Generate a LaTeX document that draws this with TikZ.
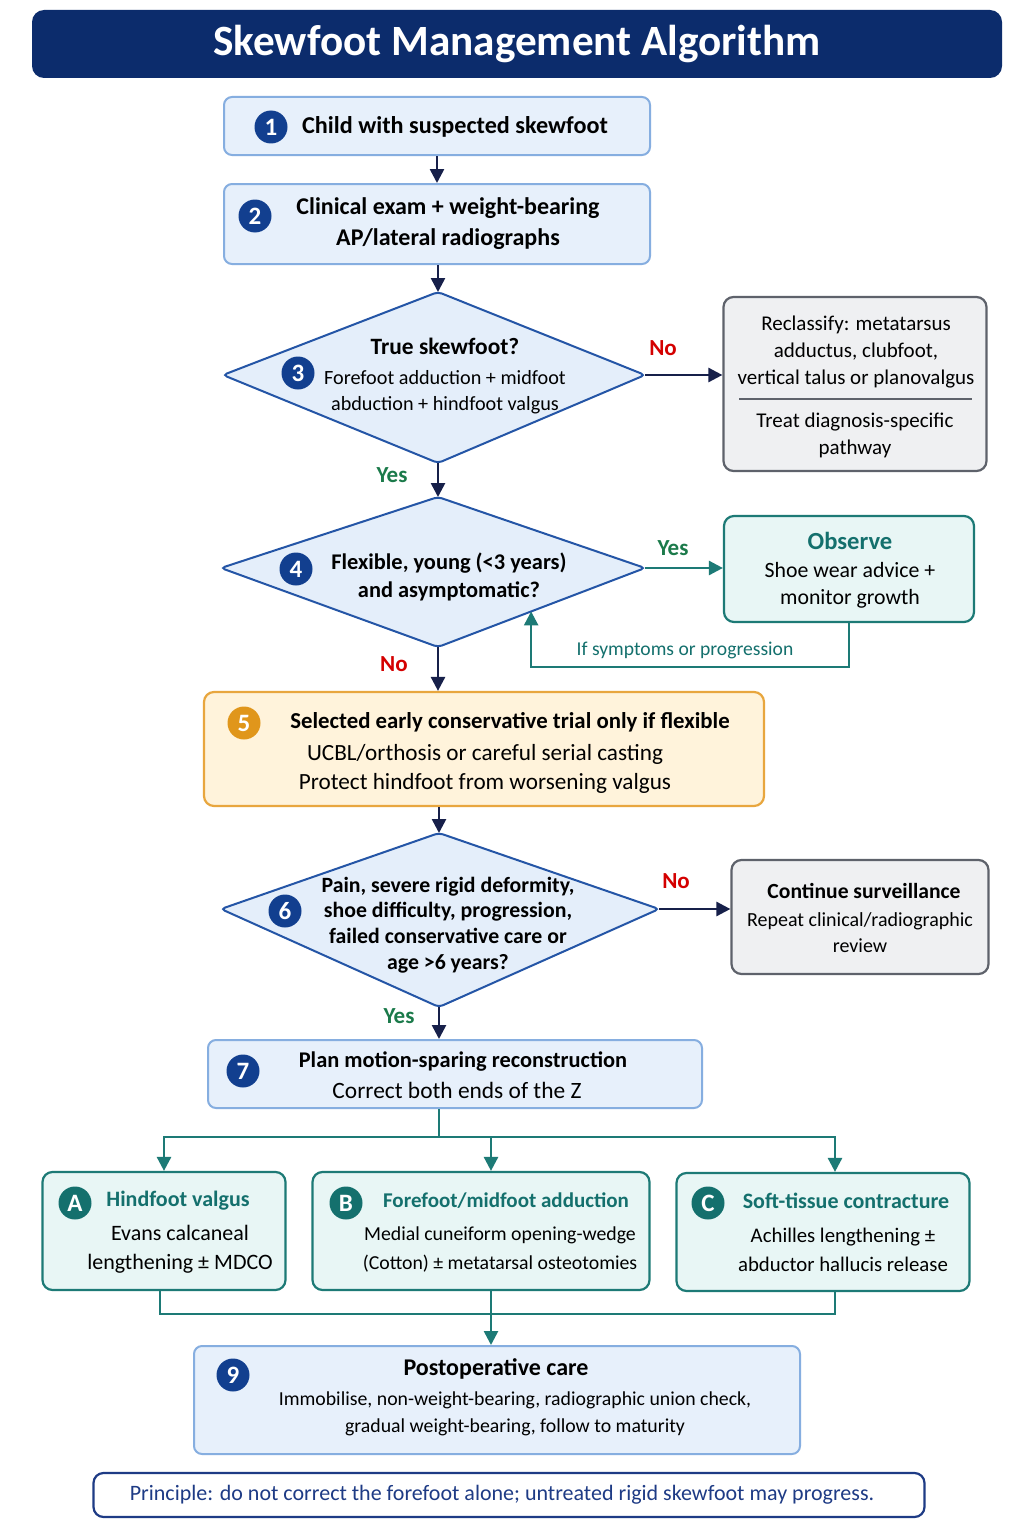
\documentclass[tikz,border=0pt]{standalone}
\usepackage{fontspec}
\setmainfont{Carlito}
\usetikzlibrary{arrows.meta,calc}

\newcommand{\pxu}{0.5pt}

\definecolor{titlenavy}{HTML}{0C2C6C}
\definecolor{dotnavy}{HTML}{123F8F}
\definecolor{arrownavy}{HTML}{17204A}
\definecolor{boxfill}{HTML}{E7F0FB}
\definecolor{boxline}{HTML}{86AEE0}
\definecolor{dfill}{HTML}{E4EEFA}
\definecolor{dline}{HTML}{2455A6}
\definecolor{grayfill}{HTML}{EFF0F2}
\definecolor{grayline}{HTML}{5E626B}
\definecolor{tealline}{HTML}{1D7A76}
\definecolor{tealfill}{HTML}{E8F6F5}
\definecolor{tealtext}{HTML}{14706D}
\definecolor{yesgreen}{HTML}{1B7A4A}
\definecolor{nored}{HTML}{D40000}
\definecolor{orfill}{HTML}{FFF3DB}
\definecolor{orline}{HTML}{E8A63E}
\definecolor{ordot}{HTML}{E0961B}
\definecolor{prinnavy}{HTML}{1E3B85}

\tikzset{
  titlebar/.style={fill=titlenavy, rounded corners=6pt, text=white,
    font=\bfseries\fontsize{21.6}{24}\selectfont},
  bluebox/.style={draw=boxline, fill=boxfill, line width=1pt, rounded corners=4pt},
  graybox/.style={draw=grayline, fill=grayfill, line width=1.1pt, rounded corners=5pt},
  tealbox/.style={draw=tealline, fill=tealfill, line width=1.1pt, rounded corners=5pt},
  orbox/.style={draw=orline, fill=orfill, line width=1.1pt, rounded corners=5pt},
  decision/.style={draw=dline, fill=dfill, line width=1pt, rounded corners=2pt},
  numdot/.style={circle, fill=dotnavy, text=white, inner sep=0pt,
    minimum size=33*\pxu, font=\bfseries\fontsize{12.5}{12.5}\selectfont},
  head/.style={align=center, inner sep=0pt, font=\bfseries\fontsize{11.5}{15}\selectfont},
  body/.style={align=center, inner sep=0pt, font=\fontsize{10.5}{13.5}\selectfont},
  yeslbl/.style={text=yesgreen, font=\bfseries\fontsize{11.5}{12}\selectfont},
  nolbl/.style={text=nored, font=\bfseries\fontsize{11.5}{12}\selectfont},
  arrnavy/.style={draw=arrownavy, line width=1.3pt, -{Triangle[length=7pt,width=7pt]}},
  arrteal/.style={draw=tealline, line width=1.3pt, -{Triangle[length=7pt,width=7pt]}},
  lineteal/.style={draw=tealline, line width=1.3pt}
}

\begin{document}
\begin{tikzpicture}[x=0.5pt, y=-0.5pt]
    \useasboundingbox[fill=white] (0,0) rectangle (1024,1536);

    % Title
    \node[titlebar, minimum width=970*\pxu, minimum height=68*\pxu] (title) at (517,44) {Skewfoot Management Algorithm};

    % Main column boxes
    \node[bluebox, minimum width=426*\pxu, minimum height=58*\pxu] (b1) at (437,126) {};
    \node[bluebox, minimum width=426*\pxu, minimum height=80*\pxu] (b2) at (437,224) {};
    \node[orbox, minimum width=560*\pxu, minimum height=114*\pxu] (b5) at (484,749) {};
    \node[bluebox, minimum width=494*\pxu, minimum height=68*\pxu] (b7) at (455,1074) {};

    % Decision diamonds
    \coordinate (d3n) at (438,292);  \coordinate (d3e) at (645,375);
    \coordinate (d3s) at (438,463);  \coordinate (d3w) at (223,375);
    \draw[decision] (d3n) -- (d3e) -- (d3s) -- (d3w) -- cycle;
    \coordinate (d4n) at (438,497);  \coordinate (d4e) at (645,568);
    \coordinate (d4s) at (438,647);  \coordinate (d4w) at (221,568);
    \draw[decision] (d4n) -- (d4e) -- (d4s) -- (d4w) -- cycle;
    \coordinate (d6n) at (439,833);  \coordinate (d6e) at (659,909);
    \coordinate (d6s) at (439,1007); \coordinate (d6w) at (221,909);
    \draw[decision] (d6n) -- (d6e) -- (d6s) -- (d6w) -- cycle;

    % Side boxes
    \node[graybox, minimum width=263*\pxu, minimum height=174*\pxu] (recl) at (855,384) {};
    \node[tealbox, minimum width=250*\pxu, minimum height=106*\pxu] (obs) at (849,569) {};
    \node[graybox, minimum width=257*\pxu, minimum height=114*\pxu] (cont) at (860,917) {};

    % Procedure boxes
    \node[tealbox, minimum width=243*\pxu, minimum height=118*\pxu] (bA) at (164,1231) {};
    \node[tealbox, minimum width=337*\pxu, minimum height=118*\pxu] (bB) at (481,1231) {};
    \node[tealbox, minimum width=293*\pxu, minimum height=118*\pxu] (bC) at (823,1232) {};

    % Postoperative and principle
    \node[bluebox, minimum width=606*\pxu, minimum height=108*\pxu] (b9) at (497,1400) {};
    \node[draw=prinnavy, fill=white, line width=1.1pt, rounded corners=5pt,
          minimum width=831*\pxu, minimum height=44*\pxu] (prin) at (509,1495) {};

    % Numbers
    \node[numdot] (n1) at (271,127) {1};
    \node[numdot] (n2) at (255,216) {2};
    \node[numdot] (n3) at (298,373) {3};
    \node[numdot] (n4) at (296,569) {4};
    \node[numdot, fill=ordot] (n5) at (244,723) {5};
    \node[numdot] (n6) at (285,911) {6};
    \node[numdot] (n7) at (243,1071) {7};
    \node[numdot, fill=tealtext] (nA) at (75,1203) {A};
    \node[numdot, fill=tealtext] (nB) at (346,1203) {B};
    \node[numdot, fill=tealtext] (nC) at (708,1203) {C};
    \node[numdot] (n9) at (233,1375) {9};

    % Texts
    \node[head, font=\bfseries\fontsize{12.1}{15}\selectfont] (t1) at (455,127) {Child with suspected skewfoot};
    \node[head, font=\bfseries\fontsize{12}{15}\selectfont] (t2) at (448,224) {Clinical exam + weight-bearing\\[0.5pt] AP/lateral radiographs};
    \node[body, font=\fontsize{10.1}{13}\selectfont] (t3) at (445,376) {{\bfseries\fontsize{11.7}{13}\selectfont True skewfoot?}\\[2pt] Forefoot adduction + midfoot\\ abduction + hindfoot valgus};
    \node[body] (trecl) at (856,352) {Reclassify: metatarsus\\ adductus, clubfoot,\\ vertical talus or planovalgus};
    \draw[grayline, line width=0.6pt] (739,399) -- (972,399);
    \node[body] (ttreat) at (855,435) {Treat diagnosis-specific\\ pathway};
    \node[head, font=\bfseries\fontsize{11.2}{14}\selectfont] (t4) at (449,577) {Flexible, young (<3 years)\\ and asymptomatic?};
    \node[body, font=\fontsize{10.9}{13.3}\selectfont] (tobs) at (850,570) {{\bfseries\fontsize{12.3}{13}\selectfont\color{tealtext}Observe}\\[1pt] Shoe wear advice +\\ monitor growth};
    \node[head, font=\bfseries\fontsize{11.4}{15}\selectfont] (t5) at (510,722) {Selected early conservative trial only if flexible};
    \node[body, font=\fontsize{11.6}{14.5}\selectfont] (t5b) at (485,769) {UCBL/orthosis or careful serial casting\\ Protect hindfoot from worsening valgus};
    \node[head, font=\bfseries\fontsize{10.9}{12.9}\selectfont] (t6) at (448,925) {Pain, severe rigid deformity,\\ shoe difficulty, progression,\\ failed conservative care or\\ age >6 years?};
    \node[head, font=\bfseries\fontsize{10.8}{15}\selectfont] (tcont) at (864,891) {Continue surveillance};
    \node[body, font=\fontsize{10}{13}\selectfont] (tcontb) at (860,933) {Repeat clinical/radiographic\\ review};
    \node[head, font=\bfseries\fontsize{11.2}{15}\selectfont] (t7) at (463,1062) {Plan motion-sparing reconstruction};
    \node[body, font=\fontsize{11.7}{14}\selectfont] (t7b) at (457,1090) {Correct both ends of the Z};
    \node[head, text=tealtext, font=\bfseries\fontsize{11}{15}\selectfont] (tA) at (178,1201) {Hindfoot valgus};
    \node[body, font=\fontsize{11}{14.5}\selectfont] (tAb) at (180,1249) {Evans calcaneal\\ lengthening ± MDCO};
    \node[head, text=tealtext, font=\bfseries\fontsize{10.5}{15}\selectfont] (tB) at (506,1201) {Forefoot/midfoot adduction};
    \node[body, font=\fontsize{9.9}{14.5}\selectfont] (tBb) at (500,1249) {Medial cuneiform opening-wedge\\ (Cotton) ± metatarsal osteotomies};
    \node[head, text=tealtext, font=\bfseries\fontsize{11}{15}\selectfont] (tC) at (846,1201) {Soft-tissue contracture};
    \node[body, font=\fontsize{10.4}{14.5}\selectfont] (tCb) at (843,1250) {Achilles lengthening ±\\ abductor hallucis release};
    \node[head, font=\bfseries\fontsize{12}{15}\selectfont] (t9) at (496,1369) {Postoperative care};
    \node[body, font=\fontsize{9.9}{13.5}\selectfont] (t9b) at (515,1414) {Immobilise, non-weight-bearing, radiographic union check,\\ gradual weight-bearing, follow to maturity};
    \node[body, text=prinnavy, font=\fontsize{11}{13}\selectfont] (tprin) at (502,1495) {Principle: do not correct the forefoot alone; untreated rigid skewfoot may progress.};

    % Connectors
    \draw[arrnavy] (b1.south) -- (b2.north);
    \draw[arrnavy] (d3n |- b2.south) -- (d3n);
    \draw[arrnavy] (d3e) -- (d3e -| recl.west);
    \draw[arrnavy] (d3s) -- (d4n);
    \draw[arrteal] (d4e) -- (d4e -| obs.west);
    \coordinate (fbrow) at (0,667);
    \coordinate (fb) at ($(d4s)!0.45!(d4e)$);
    \draw[arrteal] (obs.south) -- (obs.south |- fbrow) -| (fb);
    \node[text=tealtext, font=\fontsize{9.8}{11}\selectfont] (lfb) at (685,650) {If symptoms or progression};
    \draw[arrnavy] (d4s) -- (d4s |- b5.north);
    \draw[arrnavy] (d6n |- b5.south) -- (d6n);
    \draw[arrnavy] (d6e) -- (d6e -| cont.west);
    \draw[arrnavy] (d6s) -- (d6s |- b7.north);

    % Branch to procedures
    \coordinate (split) at (439,1137);
    \coordinate (xB) at (491,0);
    \coordinate (xC) at (835,0);
    \draw[lineteal] (split |- b7.south) -- (split);
    \draw[arrteal] (split) -| (bA.north);
    \draw[arrteal] (split) -| (xB |- bB.north);
    \draw[arrteal] (split) -| (xC |- bC.north);

    % Merge to postoperative care
    \coordinate (merge) at (491,1314);
    \coordinate (xA) at (160,0);
    \draw[lineteal] (xA |- bA.south) |- (merge);
    \draw[lineteal] (xC |- bC.south) |- (merge);
    \draw[arrteal] (xB |- bB.south) -- (xB |- b9.north);

    % Branch labels
    \node[nolbl] (no3) at (663,348) {No};
    \node[yeslbl] (yes3) at (392,475) {Yes};
    \node[yeslbl] (yes4) at (673,548) {Yes};
    \node[nolbl] (no4) at (394,664) {No};
    \node[nolbl] (no6) at (676,881) {No};
    \node[yeslbl] (yes6) at (399,1016) {Yes};
\end{tikzpicture}
\end{document}
